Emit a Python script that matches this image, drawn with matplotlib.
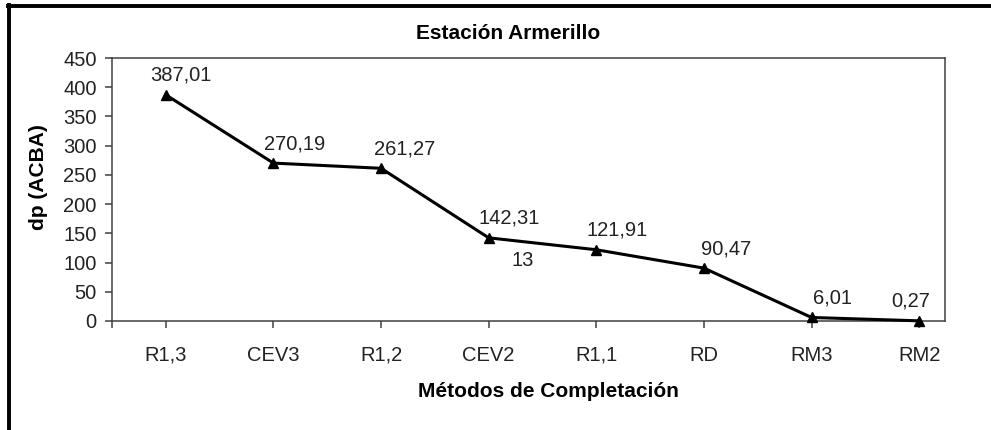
import matplotlib
matplotlib.use("Agg")
import matplotlib.pyplot as plt
from matplotlib.lines import Line2D

plt.rcParams['font.family'] = ['Liberation Sans', 'DejaVu Sans']

# datos
metodos = ['R1,3', 'CEV3', 'R1,2', 'CEV2', 'R1,1', 'RD', 'RM3', 'RM2']
dp = [387.01, 270.19, 261.27, 142.31, 121.91, 90.47, 6.01, 0.27]
etiquetas = ['387,01', '270,19', '261,27', '142,31', '121,91', '90,47', '6,01', '0,27']
y_ticks = list(range(0, 451, 50))

# desplazamiento de las etiquetas (puntos)
despl_x = [11, 15, 17, 15, 15, 16, 15, -6]

fig = plt.figure(figsize=(9.91, 4.30), dpi=100)
ax = fig.add_axes([0.113, 0.2535, 0.8406, 0.6116])

x = list(range(len(metodos)))
ax.plot(x, dp, color='black', linewidth=2.2, marker='^', markersize=7,
        markerfacecolor='black', markeredgecolor='black', clip_on=False, zorder=3)

for xi, yi, txt, dx in zip(x, dp, etiquetas, despl_x):
    ax.annotate(txt, (xi, yi), xytext=(dx, 14), textcoords='offset points',
                ha='center', va='center', fontsize=14.5, color='#222222')

# texto suelto que aparece en el original
ax.text(3.32, 104, '13', ha='center', va='center', fontsize=14.5, color='#222222')

ax.set_xlim(-0.5, 7.24)
ax.set_ylim(0, 450)
ax.set_yticks(y_ticks)
ax.set_xticks(x)
ax.set_xticklabels(metodos)
ax.set_xticks([-0.5], minor=True)
ax.tick_params(axis='both', which='both', direction='out', length=5, width=1.1,
               color='#404040', labelsize=14.5, labelcolor='#222222')
ax.tick_params(axis='x', pad=13)
ax.tick_params(axis='y', pad=6)
for s in ax.spines.values():
    s.set_color('#404040')
    s.set_linewidth(1.1)

fig.text(0.513, 0.923, 'Estación Armerillo', ha='center', va='center',
         fontsize=15, fontweight='bold')
fig.text(0.553, 0.09, 'Métodos de Completación', ha='center', va='center',
         fontsize=15, fontweight='bold')
fig.text(0.039, 0.588, 'dp (ACBA)', ha='center', va='center', rotation=90,
         fontsize=15, fontweight='bold')

# marco negro superior e izquierdo
fig.add_artist(Line2D([0.0085, 1.0], [0.986, 0.986], color='black', linewidth=2.8,
                      transform=fig.transFigure))
fig.add_artist(Line2D([0.0095, 0.0095], [0.0, 0.988], color='black', linewidth=2.8,
                      transform=fig.transFigure))

fig.savefig('out.png', dpi=100)
